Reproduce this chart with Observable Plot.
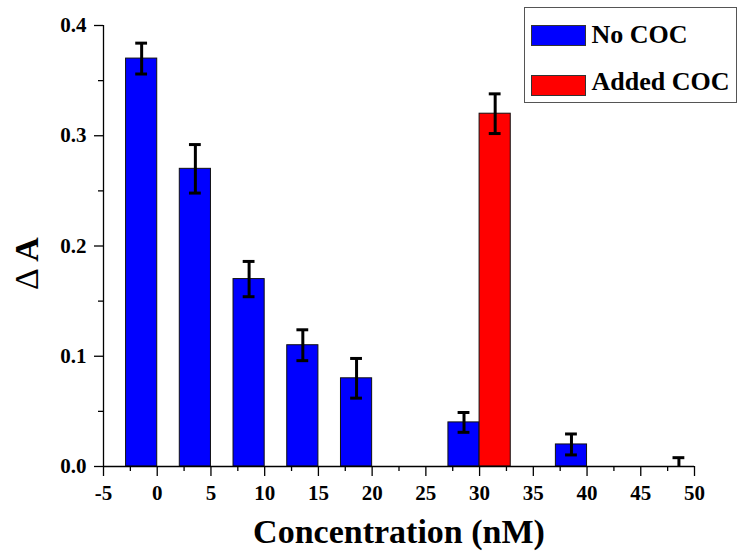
<!DOCTYPE html>
<html>
<head>
<meta charset="utf-8">
<script src="https://cdn.jsdelivr.net/npm/d3@7"></script>
<script src="https://cdn.jsdelivr.net/npm/@observablehq/plot@0.6"></script>
<style>
  html, body { margin: 0; padding: 0; background: #fff; }
  #wrap { position: relative; width: 738px; height: 554px; }
  #wrap svg text { font-family: "Liberation Serif", "Times New Roman", serif !important; }
  #legend { position: absolute; left: 524px; top: 7px; width: 213px; height: 96px;
            border: 1.5px solid #555; box-sizing: border-box; background: #fff;
            font-family: "Liberation Serif", "Times New Roman", serif; font-weight: bold; font-size: 26px; color: #000; }
  .sw { position: absolute; left: 5.5px; width: 55px; height: 21px; border: 1px solid #333; box-sizing: border-box; }
  .lt { position: absolute; left: 66.5px; line-height: 26px; white-space: nowrap; }
</style>
</head>
<body>
<div id="wrap"></div>
<script>
// ---- data ----
const concentrations = [0, 5, 10, 15, 20, 30, 40, 50];
const noCOC = [0.37, 0.27, 0.17, 0.11, 0.08, 0.04, 0.02, 0.0];
const noCOCErr = [0.014, 0.022, 0.016, 0.014, 0.018, 0.009, 0.0095, 0.008];
const addedConcentrations = [30];
const addedCOC = [0.32];
const addedCOCErr = [0.018];
const xTicks = [-5, 0, 5, 10, 15, 20, 25, 30, 35, 40, 45, 50];
const xMinorTicks = [-2.5, 2.5, 7.5, 12.5, 17.5, 22.5, 27.5, 32.5, 37.5, 42.5, 47.5];
const yTicks = [0, 0.1, 0.2, 0.3, 0.4];
const yMinorTicks = [0.05, 0.15, 0.25, 0.35];
const seriesNames = ["No COC", "Added COC"];
const seriesColors = ["#0000FF", "#FF0000"];
const xTitle = "Concentration (nM)";
const yTitleSymbol = "Δ";
const yTitleLetter = "A";

// ---- derived tables ----
const barW = 2.9;   // bar width in x units
const capW = 0.55;  // half cap width in x units
const blue = concentrations.map((c, i) => ({x1: c - barW, x2: c, cx: c - barW / 2, v: noCOC[i], e: noCOCErr[i]}));
const red = addedConcentrations.map((c, i) => ({x1: c, x2: c + barW, cx: c + barW / 2, v: addedCOC[i], e: addedCOCErr[i]}));
const all = blue.concat(red);

const font = "Liberation Serif";

const chart = Plot.plot({
  width: 738,
  height: 554,
  marginLeft: 103,
  marginRight: 44,
  marginTop: 25,
  marginBottom: 88,
  style: {fontFamily: font, fontWeight: "bold", color: "#000", background: "transparent"},
  x: {domain: [-5, 50]},
  y: {domain: [0, 0.4]},
  marks: [
    Plot.rectY(blue, {x1: "x1", x2: "x2", y1: () => 0, y2: "v", fill: seriesColors[0], stroke: "#111", strokeWidth: 1}),
    Plot.rectY(red, {x1: "x1", x2: "x2", y1: () => 0, y2: "v", fill: seriesColors[1], stroke: "#111", strokeWidth: 1}),
    Plot.ruleX(all, {x: "cx", y1: d => d.v - d.e, y2: d => d.v + d.e, stroke: "#000", strokeWidth: 3, clip: true}),
    Plot.ruleY(all, {y: d => d.v + d.e, x1: d => d.cx - capW, x2: d => d.cx + capW, stroke: "#000", strokeWidth: 3, clip: true}),
    Plot.ruleY(all, {y: d => d.v - d.e, x1: d => d.cx - capW, x2: d => d.cx + capW, stroke: "#000", strokeWidth: 3, clip: true}),
    Plot.ruleY([0], {x1: -5, x2: 50, stroke: "#000", strokeWidth: 1.3}),
    Plot.ruleX([-5], {y1: 0, y2: 0.4, stroke: "#000", strokeWidth: 1.3}),
    Plot.axisX(xTicks, {tickSize: 10, tickPadding: 9, fontSize: 21, fontWeight: "bold", fontFamily: font, tickFormat: d => String(d), strokeWidth: 1.3, label: null}),
    Plot.axisX(xMinorTicks, {tickSize: 5, tickFormat: () => "", strokeWidth: 1.3, label: null}),
    Plot.axisY(yTicks, {tickSize: 9, tickPadding: 8, fontSize: 21, fontWeight: "bold", fontFamily: font, tickFormat: d3.format(".1f"), strokeWidth: 1.3, label: null}),
    Plot.axisY(yMinorTicks, {tickSize: 5, tickFormat: () => "", strokeWidth: 1.3, label: null}),
    Plot.text([xTitle], {frameAnchor: "bottom", text: d => d, dy: 66, textAnchor: "middle", lineAnchor: "middle", fontSize: 34, fontWeight: "bold", fontFamily: font, fill: "#000"}),
    Plot.text([yTitleSymbol], {frameAnchor: "bottom-left", text: d => d, rotate: -90, dx: -76, dy: -187.5, textAnchor: "middle", lineAnchor: "middle", fontSize: 34, fontWeight: "normal", fontFamily: font, fill: "#000"}),
    Plot.text([yTitleLetter], {frameAnchor: "bottom-left", text: d => d, rotate: -90, dx: -76, dy: -217, textAnchor: "middle", lineAnchor: "middle", fontSize: 34, fontWeight: "bold", fontFamily: font, fill: "#000"})
  ]
});

const wrap = document.getElementById("wrap");
wrap.appendChild(chart);

const legend = document.createElement("div");
legend.id = "legend";
const tops = [16.5, 66.5];
const textTops = [13.7, 61.4];
seriesNames.forEach((name, i) => {
  const sw = document.createElement("div");
  sw.className = "sw";
  sw.style.top = tops[i] + "px";
  sw.style.background = seriesColors[i];
  legend.appendChild(sw);
  const t = document.createElement("div");
  t.className = "lt";
  t.style.top = textTops[i] + "px";
  t.textContent = name;
  legend.appendChild(t);
});
wrap.appendChild(legend);
</script>
</body>
</html>
